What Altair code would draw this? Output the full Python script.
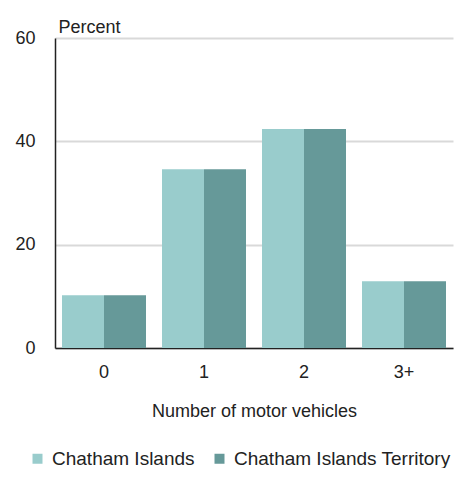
import altair as alt
import pandas as pd

categories = ["0", "1", "2", "3+"]
series = ["Chatham Islands", "Chatham Islands Territory"]
chatham_islands = [10.2, 34.6, 42.4, 12.9]
chatham_territory = [10.2, 34.6, 42.4, 12.9]
colors = ["#99CCCC", "#669999"]
y_ticks = [0, 20, 40, 60]

rows = []
for c, a, b in zip(categories, chatham_islands, chatham_territory):
    rows.append({"vehicles": c, "area": series[0], "percent": a})
    rows.append({"vehicles": c, "area": series[1], "percent": b})
df = pd.DataFrame(rows)

FONT = "Liberation Sans"
TXT = "#222222"

chart = alt.Chart(df).mark_bar().encode(
    x=alt.X(
        "vehicles:N",
        sort=categories,
        scale=alt.Scale(paddingInner=0.16, paddingOuter=0.07),
        axis=alt.Axis(
            title="Number of motor vehicles",
            labelAngle=0,
            ticks=False,
            tickSize=0,
            labelPadding=15,
            titlePadding=21,
            labelFontSize=18,
            titleFontSize=18,
            titleFontWeight="normal",
            labelFont=FONT,
            titleFont=FONT,
            labelColor=TXT,
            titleColor=TXT,
            domainColor=TXT,
            domainWidth=1.5,
            grid=False,
        ),
    ),
    xOffset=alt.XOffset("area:N", sort=series,
                        scale=alt.Scale(paddingInner=0, paddingOuter=0)),
    y=alt.Y(
        "percent:Q",
        scale=alt.Scale(domain=[0, 60], nice=False),
        axis=alt.Axis(
            values=y_ticks,
            title="Percent",
            titleAngle=0,
            titleAlign="left",
            titleBaseline="alphabetic",
            titleX=3,
            titleY=-6,
            ticks=False,
            tickSize=0,
            labelPadding=20,
            labelFontSize=18,
            titleFontSize=18,
            titleFontWeight="normal",
            labelFont=FONT,
            titleFont=FONT,
            labelColor=TXT,
            titleColor=TXT,
            domainColor=TXT,
            domainWidth=1.5,
            grid=True,
            gridColor="#d9d9d9",
            gridWidth=2,
        ),
    ),
    color=alt.Color(
        "area:N",
        sort=series,
        scale=alt.Scale(domain=series, range=colors),
        legend=alt.Legend(
            title=None,
            orient="none",
            legendX=-27,
            legendY=411,
            padding=0,
            direction="horizontal",
            symbolType="square",
            symbolSize=100,
            symbolStrokeWidth=0,
            labelFontSize=19,
            labelFont=FONT,
            labelColor=TXT,
            labelOffset=5,
            labelLimit=400,
            columnPadding=15,
        ),
    ),
).properties(
    width=398,
    height=310,
    autosize=alt.AutoSizeParams(type="none"),
    padding={"left": 47, "top": 30, "right": 8, "bottom": 120},
).configure_view(stroke=None)

chart.save("out.html", embed_options={"renderer": "svg", "actions": False})
